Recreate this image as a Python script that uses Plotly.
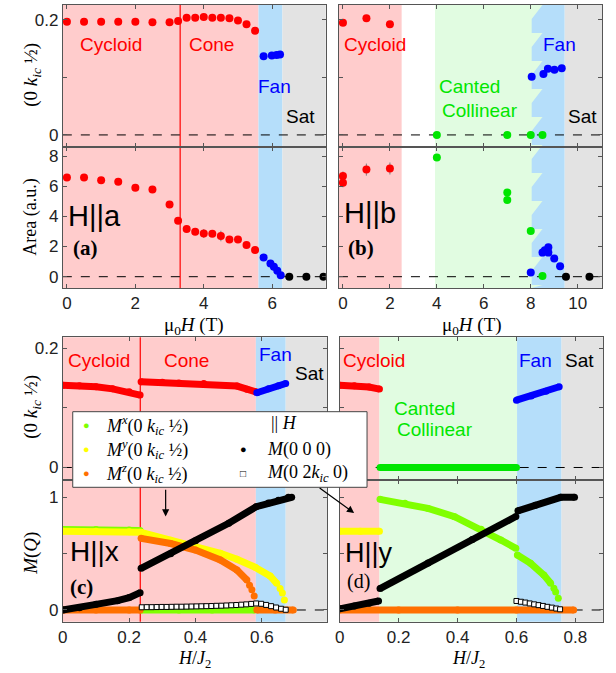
import plotly.graph_objects as go

W, H = 616, 673

# ---------------- data: panel (a) H||a ----------------
a_cyc_field = [0, 0.5, 1, 1.5, 2, 2.5, 3, 3.25, 3.5, 3.75, 4, 4.25, 4.5, 4.75, 5, 5.25, 5.5]
a_cyc_k = [0.197, 0.197, 0.197, 0.197, 0.197, 0.196, 0.196, 0.198, 0.204, 0.204, 0.205, 0.204, 0.204, 0.203, 0.199, 0.1925, 0.181]
a_cyc_area = [6.58, 6.58, 6.4, 6.3, 5.9, 5.79, 4.79, 3.71, 3.16, 2.98, 2.87, 2.84, 2.7, 2.47, 2.47, 2.1, 1.77]
a_cyc_err = [0.1, 0.1, 0.1, 0.1, 0.1, 0.1, 0.1, 0.1, 0.15, 0.15, 0.3, 0.2, 0.35, 0.15, 0.15, 0.1, 0.1]
a_fan_k_field = [5.75, 5.99, 6.13, 6.23]
a_fan_k = [0.137, 0.138, 0.139, 0.140]
a_fan_field = [5.75, 5.95, 6.05, 6.15, 6.25]
a_fan_area = [1.28, 0.88, 0.66, 0.4, 0.1]
a_sat_field = [6.5, 7.0, 7.5]
a_sat_area = [0, 0, 0]

# ---------------- data: panel (b) H||b ----------------
b_cyc_k_field = [0, 1, 2]
b_cyc_k = [0.195, 0.203, 0.1925]
b_cyc_field = [0, 0, 1, 2]
b_cyc_area = [6.67, 6.23, 7.1, 7.18]
b_cyc_err = [0.3, 0.3, 0.4, 0.4]
b_can_k_field = [4, 7, 8, 8.5]
b_can_k = [0, 0, 0, 0]
b_can_field = [4, 7, 7, 8, 8.5]
b_can_area = [7.9, 5.59, 5.08, 3.03, 0.05]
b_fan_k_field = [8.04, 8.54, 8.73, 9.01, 9.32]
b_fan_k = [0.101, 0.106, 0.115, 0.1135, 0.116]
b_fan_field = [8.0, 8.5, 8.6, 8.75, 8.75, 9.0, 9.25]
b_fan_area = [0.27, 1.6, 1.75, 1.95, 1.6, 1.2, 0.7]
b_sat_field = [9.5, 10.5]
b_sat_area = [0, 0]

# ---------------- data: panel (c) H||x ----------------
c_cyc_h = [0, 0.05, 0.1, 0.15, 0.2, 0.233]
c_cyc_k = [0.138, 0.137, 0.1355, 0.132, 0.127, 0.1215]
c_cone_h = [0.236, 0.3, 0.35, 0.425, 0.525, 0.555, 0.582]
c_cone_k = [0.144, 0.143, 0.142, 0.141, 0.1366, 0.1315, 0.127]
c_fan_h = [0.585, 0.62, 0.65, 0.672]
c_fan_k = [0.1255, 0.132, 0.137, 0.141]

c_mx1_h = [0, 0.1, 0.2, 0.233]
c_mx1 = [0.715, 0.715, 0.71, 0.705]
c_mx2_h = [0.236, 0.35, 0.45, 0.578]
c_mx2 = [0, 0, 0, 0]
c_my1_h = [0, 0.1, 0.2, 0.233]
c_my1 = [0.70, 0.70, 0.695, 0.69]
c_my2_h = [0.236, 0.325, 0.4, 0.475, 0.525, 0.58, 0.625, 0.645]
c_my2 = [0.69, 0.62, 0.568, 0.503, 0.45, 0.379, 0.302, 0.237]
c_my3_h = [0.655, 0.662, 0.668]
c_my3 = [0.19, 0.15, 0.089]
c_mz1_h = [0, 0.1, 0.2, 0.233]
c_mz1 = [0, 0, 0, 0]
c_mz2_h = [0.236, 0.325, 0.4, 0.475, 0.525, 0.555]
c_mz2 = [0.636, 0.59, 0.532, 0.444, 0.355, 0.266]
c_mz3_h = [0.563, 0.57, 0.577]
c_mz3 = [0.22, 0.18, 0.124]
c_mz4_h = [0.585, 0.64, 0.695]
c_mz4 = [0, 0, 0]
c_m0a_h = [0, 0.05, 0.1, 0.165, 0.2, 0.233]
c_m0a = [0.0, 0.02, 0.05, 0.083, 0.11, 0.154]
c_m0b_h = [0.236, 0.325, 0.4, 0.5, 0.583, 0.62, 0.65, 0.68, 0.69]
c_m0b = [0.37, 0.5, 0.615, 0.77, 0.917, 0.95, 0.975, 1.0, 1.0]
c_m2k_h = [0.238, 0.253, 0.268, 0.283, 0.298, 0.313, 0.328, 0.343, 0.358, 0.373,
           0.388, 0.403, 0.418, 0.433, 0.448, 0.463, 0.478, 0.493, 0.508, 0.523,
           0.538, 0.553, 0.568, 0.583, 0.598, 0.613, 0.628, 0.643, 0.658, 0.672]
c_m2k = [0.024, 0.025, 0.025, 0.026, 0.027, 0.027, 0.028, 0.029, 0.029, 0.030,
         0.031, 0.032, 0.033, 0.034, 0.035, 0.037, 0.038, 0.040, 0.042, 0.044,
         0.047, 0.050, 0.054, 0.058, 0.055, 0.045, 0.034, 0.022, 0.011, 0.002]

# ---------------- data: panel (d) H||y ----------------
d_cyc_h = [0, 0.05, 0.1, 0.135]
d_cyc_k = [0.138, 0.137, 0.135, 0.1316]
d_can_h = [0.137, 0.25, 0.35, 0.45, 0.6]
d_can_k = [0, 0, 0, 0, 0]
d_fan_h = [0.6, 0.65, 0.7, 0.745]
d_fan_k = [0.113, 0.12, 0.128, 0.1355]

d_my1_h = [0, 0.07, 0.135]
d_my1 = [0.70, 0.70, 0.70]
d_mx1_h = [0.137, 0.222, 0.3, 0.39, 0.48, 0.547, 0.598]
d_mx1 = [0.982, 0.947, 0.902, 0.828, 0.716, 0.621, 0.547]
d_mx2_h = [0.603, 0.648, 0.693, 0.716]
d_mx2 = [0.488, 0.414, 0.31, 0.237]
d_mx3_h = [0.727, 0.733, 0.742]
d_mx3 = [0.192, 0.16, 0.104]
d_mz_h = [0, 0.2, 0.4, 0.6, 0.794]
d_mz = [0, 0, 0, 0, 0]
d_m0a_h = [0, 0.05, 0.1, 0.132]
d_m0a = [0.01, 0.035, 0.06, 0.08]
d_m0b_h = [0.137, 0.3, 0.45, 0.598]
d_m0b = [0.19, 0.418, 0.625, 0.83]
d_m0c_h = [0.605, 0.664, 0.75, 0.797]
d_m0c = [0.88, 0.93, 1.0, 1.0]
d_m2k_h = [0.600, 0.615, 0.630, 0.645, 0.660, 0.675, 0.690, 0.705, 0.720, 0.735, 0.748]
d_m2k = [0.080, 0.073, 0.066, 0.058, 0.050, 0.043, 0.036, 0.028, 0.021, 0.013, 0.006]

# ---------------- phase boundaries ----------------
a_bounds = dict(cone=3.31, fan=5.6, sat=6.3)
b_bounds = dict(cyc=2.5, can=3.92, fan_l=8.04, fan_r=8.5, sat=9.44)
c_bounds = dict(cone=0.2335, fan=0.582, sat=0.672)
d_bounds = dict(can=0.135, fan=0.602, sat=0.753)

# ---------------- colours ----------------
RED = "#FF0000"
BLUE = "#0000FF"
GREEN = "#00E600"
CHART = "#80FF00"
YEL = "#FFFF00"
ORA = "#FF7000"
PINK = "#FFCCCC"
LBLUE = "#B5DEFA"
GRAY = "#E3E3E3"
LGREEN = "#E1FCE1"

# ---------------- layout geometry (reference pixel -> paper) ----------------
def fx(p):
    return p / W

def fy(p):
    return 1 - p / H

XD = {"TL": [fx(58.3), fx(323.5)], "TR": [fx(336.7), fx(602)],
      "BL": [fx(58.3), fx(324.8)], "BR": [fx(337.4), fx(603)]}
YD = {"Tk": [fy(147), fy(5)], "Ta": [fy(288), fy(147)],
      "Bk": [fy(480), fy(337.3)], "Bm": [fy(621.7), fy(480)]}

fig = go.Figure()

def sc(x, y, ax, color, size=8, mode="markers", lw=0, symbol="circle", err=None, lcolor=None):
    t = go.Scatter(x=x, y=y, xaxis="x" + ax, yaxis="y" + ax, mode=mode, showlegend=False,
                   hoverinfo="skip",
                   marker=dict(color=color, size=size, symbol=symbol,
                               line=dict(width=1 if lcolor else 0, color=lcolor or color)))
    if "lines" in mode:
        t.line = dict(color=color, width=lw)
    if err is not None:
        t.error_y = dict(type="data", array=err, color="#8a8a8a", thickness=1.2, width=0)
    fig.add_trace(t)

# (a)
sc(a_cyc_field, a_cyc_k, "1", RED)
sc(a_fan_k_field, a_fan_k, "1", BLUE)
sc(a_cyc_field, a_cyc_area, "2", RED, err=a_cyc_err)
sc(a_fan_field, a_fan_area, "2", BLUE, err=[0.1] * len(a_fan_area))
sc(a_sat_field, a_sat_area, "2", "black", err=[0.1] * len(a_sat_area))
# (b)
sc(b_cyc_k_field, b_cyc_k, "3", RED)
sc(b_can_k_field, b_can_k, "3", GREEN)
sc(b_fan_k_field, b_fan_k, "3", BLUE)
sc(b_cyc_field, b_cyc_area, "4", RED, err=b_cyc_err)
sc(b_can_field, b_can_area, "4", GREEN, err=[0.15] * len(b_can_area))
sc(b_fan_field, b_fan_area, "4", BLUE, err=[0.2] * len(b_fan_area))
sc(b_sat_field, b_sat_area, "4", "black", err=[0.1] * len(b_sat_area))

# (c)
LM = "lines+markers"
sc(c_cyc_h, c_cyc_k, "5", RED, 7, LM, 7)
sc(c_cone_h, c_cone_k, "5", RED, 7, LM, 7)
sc(c_fan_h, c_fan_k, "5", BLUE, 7, LM, 7)
sc(c_mx1_h, c_mx1, "6", CHART, 7, LM, 7)
sc(c_mx2_h, c_mx2, "6", CHART, 7, LM, 7)
sc(c_my1_h, c_my1, "6", YEL, 7, LM, 7)
sc(c_my2_h, c_my2, "6", YEL, 7, LM, 7)
sc(c_my3_h, c_my3, "6", YEL, 7)
sc(c_mz1_h, c_mz1, "6", ORA, 7, LM, 7)
sc(c_mz2_h, c_mz2, "6", ORA, 7, LM, 7)
sc(c_mz3_h, c_mz3, "6", ORA, 7)
sc(c_mz4_h, c_mz4, "6", ORA, 7, LM, 7)
sc(c_m0a_h, c_m0a, "6", "black", 7, LM, 7)
sc(c_m0b_h, c_m0b, "6", "black", 7, LM, 7)
sc(c_m2k_h, c_m2k, "6", "white", 5, symbol="square", lcolor="black")

# (d)
sc(d_cyc_h, d_cyc_k, "7", RED, 7, LM, 7)
sc(d_can_h, d_can_k, "7", GREEN, 7, LM, 7)
sc(d_fan_h, d_fan_k, "7", BLUE, 7, LM, 7)
sc(d_my1_h, d_my1, "8", YEL, 7, LM, 7)
sc(d_mx1_h, d_mx1, "8", CHART, 7, LM, 7)
sc(d_mx2_h, d_mx2, "8", CHART, 7, LM, 7)
sc(d_mx3_h, d_mx3, "8", CHART, 7)
sc(d_mz_h, d_mz, "8", ORA, 7, LM, 7)
sc(d_m0a_h, d_m0a, "8", "black", 7, LM, 7)
sc(d_m0b_h, d_m0b, "8", "black", 7, LM, 7)
sc(d_m0c_h, d_m0c, "8", "black", 7, LM, 7)
sc(d_m2k_h, d_m2k, "8", "white", 5, symbol="square", lcolor="black")

# ---------------- axes ----------------
FRAME = "#555555"
TICKFONT = dict(family="Liberation Sans, Arial, sans-serif", size=17, color="#222")
ranges_x = {"TL": [-0.12, 7.57], "TR": [-0.17, 11.04], "BL": [0, 0.797], "BR": [0, 0.894]}
ranges_y = {"Tk": [-0.021, 0.226], "Ta": [-0.75, 8.6], "Bk": [-0.021, 0.2185], "Bm": [-0.104, 1.154]}
ax_spec = {
    "1": ("TL", "Tk", False, True), "2": ("TL", "Ta", True, True),
    "3": ("TR", "Tk", False, False), "4": ("TR", "Ta", True, False),
    "5": ("BL", "Bk", False, True), "6": ("BL", "Bm", True, True),
    "7": ("BR", "Bk", False, False), "8": ("BR", "Bm", True, False),
}
xticks = {"TL": [0, 2, 4, 6], "TR": [0, 2, 4, 6, 8, 10], "BL": [0, 0.2, 0.4, 0.6], "BR": [0, 0.2, 0.4, 0.6, 0.8]}
yticks = {"Tk": ([0, 0.1, 0.2], ["0", "", "0.2"]), "Ta": ([0, 2, 4, 6, 8], ["0", "2", "4", "6", "8"]),
          "Bk": ([0, 0.1, 0.2], ["0", "", "0.2"]), "Bm": ([0, 0.5, 1], ["0", "", "1"])}
layout_axes = {}
for n, (xc, yr, showx, showy) in ax_spec.items():
    common = dict(showline=True, mirror="ticks", linecolor=FRAME, linewidth=1, ticks="inside",
                  ticklen=4, tickcolor=FRAME, showgrid=False, zeroline=False, tickfont=TICKFONT,
                  fixedrange=True)
    xk = "xaxis" if n == "1" else "xaxis" + n
    yk = "yaxis" if n == "1" else "yaxis" + n
    layout_axes[xk] = dict(common, domain=XD[xc], range=ranges_x[xc], anchor="y" + n,
                           tickvals=xticks[xc], showticklabels=showx, ticklabelstandoff=0)
    tv, tt = yticks[yr]
    layout_axes[yk] = dict(common, domain=YD[yr], range=ranges_y[yr], anchor="x" + n,
                           tickvals=tv, ticktext=tt, showticklabels=showy)
fig.update_layout(**layout_axes)

# ---------------- shapes ----------------
shapes = []
def band(xref, x0, x1, yd0, yd1, color):
    shapes.append(dict(type="rect", xref=xref, yref="paper", x0=x0, x1=x1, y0=yd0, y1=yd1,
                       fillcolor=color, line=dict(width=0), layer="below"))

tb, tt_ = YD["Ta"][0], YD["Tk"][1]
bb, bt = YD["Bm"][0], YD["Bk"][1]
# (a)
band("x", ranges_x["TL"][0], a_bounds["fan"], tb, tt_, PINK)
band("x", a_bounds["fan"], a_bounds["sat"], tb, tt_, LBLUE)
band("x", a_bounds["sat"], ranges_x["TL"][1], tb, tt_, GRAY)
shapes.append(dict(type="line", xref="x", yref="paper", x0=a_bounds["cone"], x1=a_bounds["cone"],
                   y0=tb, y1=tt_, line=dict(color="rgb(255,0,0)", width=1.2), layer="below"))
# (b)
band("x3", ranges_x["TR"][0], b_bounds["cyc"], tb, tt_, PINK)
band("x3", b_bounds["can"], b_bounds["fan_r"], tb, tt_, LGREEN)
band("x3", b_bounds["sat"], ranges_x["TR"][1], tb, tt_, GRAY)
period = 28 / H
pts = [(b_bounds["sat"], tb), (b_bounds["sat"], tt_), (b_bounds["fan_r"], tt_)]
yy = tt_
while yy - period > tb:
    pts.append((b_bounds["fan_l"], yy - period / 2))
    pts.append((b_bounds["fan_l"], yy - period))
    pts.append((b_bounds["fan_r"], yy - period))
    yy -= period
pts.append((b_bounds["fan_l"], max(yy - period / 2, tb)))
pts.append((b_bounds["fan_l"], tb))
path = "M " + " L ".join(f"{x},{y}" for x, y in pts) + " Z"
shapes.append(dict(type="path", xref="x3", yref="paper", path=path, fillcolor=LBLUE,
                   line=dict(width=0), layer="below"))
# (c)
band("x5", 0, c_bounds["fan"], bb, bt, PINK)
band("x5", c_bounds["fan"], c_bounds["sat"], bb, bt, LBLUE)
band("x5", c_bounds["sat"], ranges_x["BL"][1], bb, bt, GRAY)
shapes.append(dict(type="line", xref="x5", yref="paper", x0=c_bounds["cone"], x1=c_bounds["cone"],
                   y0=bb, y1=bt, line=dict(color="rgb(255,0,0)", width=1.2), layer="below"))
# (d)
band("x7", 0, d_bounds["can"], bb, bt, PINK)
band("x7", d_bounds["can"], d_bounds["fan"], bb, bt, LGREEN)
band("x7", d_bounds["fan"], d_bounds["sat"], bb, bt, LBLUE)
band("x7", d_bounds["sat"], ranges_x["BR"][1], bb, bt, GRAY)
# dashed zero lines
for n in ["1", "2", "3", "4", "5", "6", "7", "8"]:
    shapes.append(dict(type="line", xref=("x" if n == "1" else "x" + n) + " domain", x0=0, x1=1,
                       yref="y" if n == "1" else "y" + n, y0=0, y1=0,
                       line=dict(color="black", width=1, dash="dash"), layer="below"))
# legend box
shapes.append(dict(type="rect", xref="paper", yref="paper", x0=fx(68.3), x1=fx(365),
                   y0=fy(487.3), y1=fy(411.7), fillcolor="white", line=dict(color="#444", width=1),
                   layer="above"))
fig.update_layout(shapes=shapes)

# ---------------- annotations ----------------
SANS = "Liberation Sans, Arial, sans-serif"
SERIF = "Liberation Serif, DejaVu Serif, serif"
ann = []
def txt(ax, x, y, s, color="black", size=19, family=SANS, **kw):
    ann.append(dict(xref="x" if ax == "1" else "x" + ax, yref="y" if ax == "1" else "y" + ax,
                    x=x, y=y, text=s, showarrow=False, font=dict(family=family, size=size, color=color), **kw))

txt("1", 1.3, 0.157, "Cycloid", RED)
txt("1", 4.23, 0.157, "Cone", RED)
txt("1", 6.06, 0.084, "Fan", BLUE)
txt("1", 6.84, 0.032, "Sat")
txt("2", 0.82, 4.0, "H||a", size=29)
txt("2", 0.53, 1.9, "<b>(a)</b>", size=21, family=SERIF)
txt("3", 1.38, 0.157, "Cycloid", RED)
txt("3", 5.37, 0.085, "Canted", GREEN)
txt("3", 5.82, 0.043, "Collinear", GREEN)
txt("3", 9.23, 0.157, "Fan", BLUE)
txt("3", 10.19, 0.032, "Sat")
txt("4", 1.17, 4.24, "H||b", size=29)
txt("4", 0.75, 1.9, "<b>(b)</b>", size=21, family=SERIF)
txt("5", 0.11, 0.179, "Cycloid", RED)
txt("5", 0.373, 0.179, "Cone", RED)
txt("5", 0.64, 0.189, "Fan", BLUE)
txt("5", 0.743, 0.158, "Sat")
txt("6", 0.097, 0.515, "H||x", size=28)
txt("6", 0.055, 0.2, "<b>(c)</b>", size=21, family=SERIF)
txt("7", 0.115, 0.18, "Cycloid", RED)
txt("7", 0.287, 0.099, "Canted", GREEN)
txt("7", 0.323, 0.063, "Collinear", GREEN)
txt("7", 0.663, 0.179, "Fan", BLUE)
txt("7", 0.813, 0.179, "Sat")
txt("8", 0.1, 0.505, "H||y", size=27)
txt("8", 0.063, 0.255, "(d)", size=20, family=SERIF)

def ptxt(px, py, s, size=19, angle=0, family=SERIF, color="black", xanchor="center"):
    ann.append(dict(xref="paper", yref="paper", x=fx(px), y=fy(py), text=s, showarrow=False,
                    textangle=angle, xanchor=xanchor, yanchor="middle",
                    font=dict(family=family, size=size, color=color)))

KHALF = "(0 <i>k</i><sub><i>ic</i></sub> ½)"
ptxt(27, 75, KHALF, 19, -90)
ptxt(26, 217, "Area (a.u.)", 18, -90)
ptxt(27, 407, KHALF, 19, -90)
ptxt(26, 553, "<i>M</i>(<i>Q</i>)", 19, -90)
ptxt(191, 326, "μ<sub>0</sub><i>H</i> (T)", 19)
ptxt(471, 326, "μ<sub>0</sub><i>H</i> (T)", 19)
ptxt(191, 659.5, "<i>H</i>/<i>J</i><sub>2</sub>", 18)
ptxt(467, 659.5, "<i>H</i>/<i>J</i><sub>2</sub>", 18)

# legend content
leg_rows = [425, 449.3, 473.3]
for py, col, sup in zip(leg_rows, [CHART, YEL, ORA], ["x", "y", "z"]):
    ptxt(81.7, py, "●", 11, family=SANS, color=col)
    ptxt(100, py, f"<i>M</i><sup><i>{sup}</i></sup>(0 <i>k</i><sub><i>ic</i></sub> ½)", 18, xanchor="left")
ptxt(266, 423, "|| <i>H</i>", 18, xanchor="left")
ptxt(240, leg_rows[1], "●", 11, family=SANS)
ptxt(262, leg_rows[1], "<i>M</i>(0 0 0)", 18, xanchor="left")
ptxt(240, leg_rows[2], "□", 10, family=SANS)
ptxt(262, leg_rows[2], "<i>M</i>(0 2<i>k</i><sub><i>ic</i></sub> 0)", 18, xanchor="left")

# arrows
ann.append(dict(xref="x6", yref="y6", x=0.31, y=0.83, axref="x6", ayref="y6", ax=0.31, ay=1.08,
                text="", showarrow=True, arrowhead=2, arrowsize=1.2, arrowwidth=1.2, arrowcolor="black"))
ann.append(dict(xref="paper", yref="paper", x=fx(352), y=fy(513), ax=-36, ay=-26,
                text="", showarrow=True, arrowhead=2, arrowsize=1.2, arrowwidth=1.2, arrowcolor="black"))
fig.update_layout(annotations=ann)

fig.update_layout(width=W, height=H, margin=dict(l=0, r=0, t=0, b=0),
                  paper_bgcolor="white", plot_bgcolor="rgba(0,0,0,0)", showlegend=False)
fig.write_html("out.html", config={"displayModeBar": False},
               post_script="document.body.style.margin='0px';document.body.style.padding='0px';")
